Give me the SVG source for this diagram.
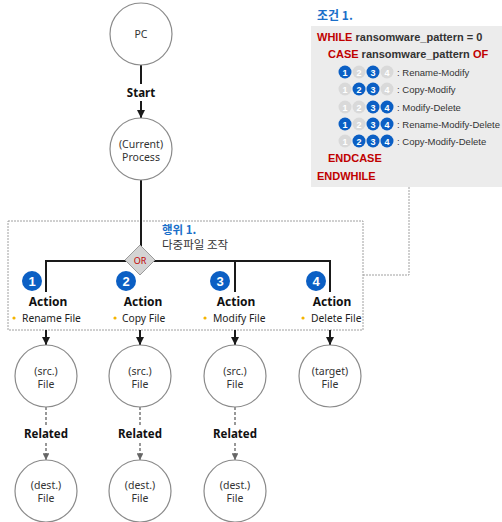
<svg xmlns="http://www.w3.org/2000/svg" width="502" height="522" viewBox="0 0 502 522">
<style>
.node{fill:#fff;stroke:#8a8a8a;stroke-width:1.2}
.nt{font-family:"Noto Sans","Open Sans",sans-serif;font-size:10.5px;fill:#333;text-anchor:middle}
.lbl{font-family:"Noto Sans","Open Sans",sans-serif;font-size:11.5px;font-weight:bold;fill:#111;text-anchor:middle}
.act{font-family:"Noto Sans","Open Sans",sans-serif;font-size:12px;font-weight:bold;fill:#111;text-anchor:middle}
.item{font-family:"Noto Sans","Open Sans",sans-serif;font-size:10.3px;fill:#222}
.bul{fill:#f5b400}
.badge{fill:#0b5fc4}
.bn{font-family:"Liberation Sans",Arial,sans-serif;font-size:13px;font-weight:bold;fill:#fff;text-anchor:middle}
.solid{stroke:#1a1a1a;stroke-width:2;fill:none}
.rel{stroke:#777;stroke-width:1.5;stroke-dasharray:3,2;fill:none}
.dot{stroke:#a0a0a0;stroke-width:1;stroke-dasharray:2,1;fill:none}
.kw{font-family:"Liberation Sans",Arial,sans-serif;font-size:11px;font-weight:bold;fill:#c00000}
.kb{font-family:"Liberation Sans",Arial,sans-serif;font-size:11px;font-weight:bold;fill:#333}
.row{font-family:"Liberation Sans",Arial,sans-serif;font-size:9.5px;fill:#333}
.on{fill:#0b5fc4}
.off{fill:#d9d9d9}
.cn{font-family:"Liberation Sans",Arial,sans-serif;font-size:9px;font-weight:bold;fill:#fff;text-anchor:middle}
.ko{font-family:"Noto Sans CJK KR",sans-serif}
</style>
<defs>
<marker id="ah" viewBox="0 0 10 10" refX="10" refY="5" markerWidth="4" markerHeight="4" orient="auto"><path d="M0,0 L10,5 L0,10 z" fill="#1a1a1a"/></marker>
<marker id="ahg" viewBox="0 0 10 10" refX="10" refY="5" markerWidth="4.5" markerHeight="4.5" orient="auto"><path d="M0,0 L10,5 L0,10 z" fill="#666"/></marker>
</defs>

<!-- condition box -->
<g id="condition">
<text x="317" y="20" class="ko" font-size="12" font-weight="bold" fill="#1a6fc9">조건 1.</text>
<rect x="311" y="26" width="191" height="161" fill="#ececec"/>
<text x="317" y="41"><tspan class="kw">WHILE</tspan><tspan class="kb"> ransomware_pattern = 0</tspan></text>
<text x="328" y="58"><tspan class="kw">CASE</tspan><tspan class="kb"> ransomware_pattern </tspan><tspan class="kw">OF</tspan></text>
<g>
<circle cx="345" cy="72" r="6.5" class="on"/><text x="345" y="75.5" class="cn">1</text>
<circle cx="359" cy="72" r="6.5" class="off"/><text x="359" y="75.5" class="cn">2</text>
<circle cx="373" cy="72" r="6.5" class="on"/><text x="373" y="75.5" class="cn">3</text>
<circle cx="387" cy="72" r="6.5" class="off"/><text x="387" y="75.5" class="cn">4</text>
<text x="397" y="75.5" class="row">: Rename-Modify</text>
</g>
<g>
<circle cx="345" cy="89" r="6.5" class="off"/><text x="345" y="92.5" class="cn">1</text>
<circle cx="359" cy="89" r="6.5" class="on"/><text x="359" y="92.5" class="cn">2</text>
<circle cx="373" cy="89" r="6.5" class="on"/><text x="373" y="92.5" class="cn">3</text>
<circle cx="387" cy="89" r="6.5" class="off"/><text x="387" y="92.5" class="cn">4</text>
<text x="397" y="92.5" class="row">: Copy-Modify</text>
</g>
<g>
<circle cx="345" cy="107" r="6.5" class="off"/><text x="345" y="110.5" class="cn">1</text>
<circle cx="359" cy="107" r="6.5" class="off"/><text x="359" y="110.5" class="cn">2</text>
<circle cx="373" cy="107" r="6.5" class="on"/><text x="373" y="110.5" class="cn">3</text>
<circle cx="387" cy="107" r="6.5" class="on"/><text x="387" y="110.5" class="cn">4</text>
<text x="397" y="110.5" class="row">: Modify-Delete</text>
</g>
<g>
<circle cx="345" cy="124" r="6.5" class="on"/><text x="345" y="127.5" class="cn">1</text>
<circle cx="359" cy="124" r="6.5" class="off"/><text x="359" y="127.5" class="cn">2</text>
<circle cx="373" cy="124" r="6.5" class="on"/><text x="373" y="127.5" class="cn">3</text>
<circle cx="387" cy="124" r="6.5" class="on"/><text x="387" y="127.5" class="cn">4</text>
<text x="397" y="127.5" class="row">: Rename-Modify-Delete</text>
</g>
<g>
<circle cx="345" cy="141" r="6.5" class="off"/><text x="345" y="144.5" class="cn">1</text>
<circle cx="359" cy="141" r="6.5" class="on"/><text x="359" y="144.5" class="cn">2</text>
<circle cx="373" cy="141" r="6.5" class="on"/><text x="373" y="144.5" class="cn">3</text>
<circle cx="387" cy="141" r="6.5" class="on"/><text x="387" y="144.5" class="cn">4</text>
<text x="397" y="144.5" class="row">: Copy-Modify-Delete</text>
</g>
<text x="328" y="162" class="kw">ENDCASE</text>
<text x="317" y="180" class="kw">ENDWHILE</text>
</g>

<!-- behavior group -->
<g id="behavior">
<rect x="8" y="221" width="355" height="109" class="dot"/>
<text x="162" y="233.5" class="ko" font-size="11.5" font-weight="bold" fill="#1a6fc9">행위 1.</text>
<text x="162" y="249" class="ko" font-size="11.5" fill="#333">다중파일 조작</text>
</g>

<!-- connectors -->
<g id="connectors">
<path d="M409,187 V275 H363" class="dot"/>
<line x1="141" y1="65" x2="141" y2="84" class="solid"/>
<line x1="141" y1="101" x2="141" y2="118" class="solid" marker-end="url(#ah)"/>
<line x1="141" y1="180" x2="141" y2="246" class="solid"/>
<path d="M46,292 V261 H330 V292" class="solid"/>
<line x1="235" y1="261" x2="235" y2="292" class="solid"/>
<line x1="46" y1="330" x2="46" y2="345" class="solid" marker-end="url(#ah)"/>
<line x1="140" y1="330" x2="140" y2="345" class="solid" marker-end="url(#ah)"/>
<line x1="235" y1="330" x2="235" y2="345" class="solid" marker-end="url(#ah)"/>
<line x1="330" y1="330" x2="330" y2="345" class="solid" marker-end="url(#ah)"/>
<line x1="46" y1="407" x2="46" y2="426" class="rel"/>
<line x1="46" y1="443" x2="46" y2="460" class="rel" marker-end="url(#ahg)"/>
<line x1="140" y1="407" x2="140" y2="426" class="rel"/>
<line x1="140" y1="443" x2="140" y2="460" class="rel" marker-end="url(#ahg)"/>
<line x1="235" y1="407" x2="235" y2="426" class="rel"/>
<line x1="235" y1="443" x2="235" y2="460" class="rel" marker-end="url(#ahg)"/>
<text x="141" y="97" class="lbl">Start</text>
<text x="46" y="438" class="lbl">Related</text>
<text x="140" y="438" class="lbl">Related</text>
<text x="235" y="438" class="lbl">Related</text>
</g>

<g id="pc">
<circle cx="141" cy="34" r="31" class="node"/>
<text x="141" y="38" class="nt">PC</text>
</g>
<g id="process">
<circle cx="141" cy="149" r="31" class="node"/>
<text x="141" y="148" class="nt">(Current)</text>
<text x="141" y="161" class="nt">Process</text>
</g>
<g id="or">
<polygon points="140,245 155,260 140,275 125,260" fill="#d4d4d4" stroke="#9a9a9a" stroke-width="1"/>
<text x="140" y="263.5" font-family="'Noto Sans',sans-serif" font-size="9" fill="#c00000" text-anchor="middle">OR</text>
</g>

<g id="action1">
<circle cx="32" cy="281" r="10" class="badge"/><text x="32" y="285.5" class="bn">1</text>
<text x="48" y="306" class="act">Action</text>
<circle cx="14" cy="318" r="1.6" class="bul"/>
<text x="22" y="322" class="item">Rename File</text>
</g>
<g id="action2">
<circle cx="126" cy="281" r="10" class="badge"/><text x="126" y="285.5" class="bn">2</text>
<text x="143" y="306" class="act">Action</text>
<circle cx="115" cy="318" r="1.6" class="bul"/>
<text x="122" y="322" class="item">Copy File</text>
</g>
<g id="action3">
<circle cx="220" cy="281" r="10" class="badge"/><text x="220" y="285.5" class="bn">3</text>
<text x="236" y="306" class="act">Action</text>
<circle cx="205" cy="318" r="1.6" class="bul"/>
<text x="213" y="322" class="item">Modify File</text>
</g>
<g id="action4">
<circle cx="316" cy="281" r="10" class="badge"/><text x="316" y="285.5" class="bn">4</text>
<text x="332" y="306" class="act">Action</text>
<circle cx="303" cy="318" r="1.6" class="bul"/>
<text x="311" y="322" class="item">Delete File</text>
</g>

<g id="src1"><circle cx="46" cy="376" r="31" class="node"/><text x="46" y="375" class="nt">(src.)</text><text x="46" y="388" class="nt">File</text></g>
<g id="src2"><circle cx="140" cy="376" r="31" class="node"/><text x="140" y="375" class="nt">(src.)</text><text x="140" y="388" class="nt">File</text></g>
<g id="src3"><circle cx="235" cy="376" r="31" class="node"/><text x="235" y="375" class="nt">(src.)</text><text x="235" y="388" class="nt">File</text></g>
<g id="target"><circle cx="330" cy="376" r="31" class="node"/><text x="330" y="375" class="nt">(target)</text><text x="330" y="388" class="nt">File</text></g>
<g id="dest1"><circle cx="46" cy="491" r="31" class="node"/><text x="46" y="489" class="nt">(dest.)</text><text x="46" y="502" class="nt">File</text></g>
<g id="dest2"><circle cx="140" cy="491" r="31" class="node"/><text x="140" y="489" class="nt">(dest.)</text><text x="140" y="502" class="nt">File</text></g>
<g id="dest3"><circle cx="235" cy="491" r="31" class="node"/><text x="235" y="489" class="nt">(dest.)</text><text x="235" y="502" class="nt">File</text></g>
</svg>
